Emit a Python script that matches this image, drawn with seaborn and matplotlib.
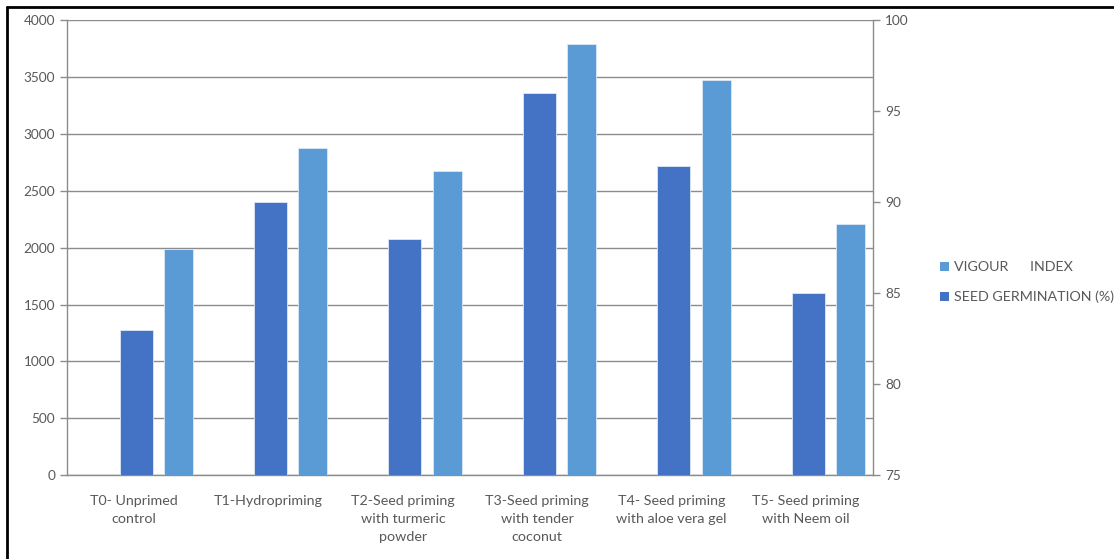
import numpy as np
import pandas as pd
import matplotlib
matplotlib.use("Agg")
import matplotlib.pyplot as plt
from matplotlib.patches import Patch
from matplotlib.lines import Line2D
import seaborn as sns

# Treatments and measured responses
treatments = [
    "T0- Unprimed\ncontrol",
    "T1-Hydropriming",
    "T2-Seed priming\nwith turmeric\npowder",
    "T3-Seed priming\nwith tender\ncoconut",
    "T4- Seed priming\nwith aloe vera gel",
    "T5- Seed priming\nwith Neem oil",
]
vigour_index = [1985, 2880, 2670, 3790, 3470, 2210]
seed_germination = [83, 90, 88, 96, 92, 85]

DARK = "#4472C4"
LIGHT = "#5B9BD5"
GRID = "#8C8C8C"
TEXT = "#595959"

sns.set_theme(style="white")
plt.rcParams["font.family"] = ["Lato", "DejaVu Sans"]

pos = np.arange(len(treatments))
df = pd.DataFrame({
    "pos": pos,
    "vigour": vigour_index,
    "germ": seed_germination,
})

fig = plt.figure(figsize=(11.14, 5.59), dpi=100)
ax = fig.add_axes([0.060, 0.150, 0.724, 0.814])
ax2 = ax.twinx()

# Vigour index on the primary axis, shifted right of each category centre
sns.barplot(data=df.assign(x=df["pos"] + 0.33), x="x", y="vigour",
            native_scale=True, width=0.215, color=LIGHT, saturation=1,
            edgecolor="#DDE8F5", linewidth=0.6, ax=ax, zorder=3)
# Seed germination on the secondary axis, centred on the category
sns.barplot(data=df.assign(x=df["pos"] + 0.015), x="x", y="germ",
            native_scale=True, width=0.245, color=DARK, saturation=1,
            edgecolor="#DDE8F5", linewidth=0.6, ax=ax2, zorder=3)

ax.set_xlim(-0.5, len(treatments) - 0.5)
ax.set_ylim(0, 4000)
ax.set_yticks(np.arange(0, 4001, 500))
ax2.set_ylim(75, 100)
ax2.set_yticks(np.arange(75, 101, 5))

ax.set_axisbelow(True)
ax.yaxis.grid(True, color=GRID, linewidth=1.0)
ax.xaxis.grid(False)
ax2.grid(False)

ax.set_xticks(pos)
ax.set_xticklabels(treatments, fontsize=10.3, color=TEXT, linespacing=1.6)
ax.set_xticks(np.arange(-0.5, len(treatments)), minor=True)
ax.tick_params(axis="x", which="major", length=0, pad=14.5)
ax.tick_params(axis="x", which="minor", length=5, width=1, color=GRID, direction="out")
ax.tick_params(axis="y", length=5, width=1, color=GRID, direction="out",
               labelsize=9.8, labelcolor=TEXT, left=True)
ax2.tick_params(axis="y", length=5, width=1, color=GRID, direction="out",
                labelsize=9.8, labelcolor=TEXT, right=True)

ax.set_xlabel("")
ax.set_ylabel("")
ax2.set_ylabel("")

for a in (ax, ax2):
    a.spines["top"].set_visible(False)
    for s in ("left", "right", "bottom"):
        a.spines[s].set_color(GRID)
        a.spines[s].set_linewidth(1.0)
ax.spines["right"].set_visible(False)
ax2.spines["left"].set_visible(False)
ax2.spines["bottom"].set_visible(False)

handles = [
    Patch(facecolor=LIGHT, edgecolor="none", label="VIGOUR      INDEX"),
    Patch(facecolor=DARK, edgecolor="none", label="SEED GERMINATION (%)"),
]
fig.legend(handles=handles, loc="center left", bbox_to_anchor=(0.839, 0.495),
           frameon=False, fontsize=10.3, labelcolor=TEXT, handlelength=0.6,
           handleheight=0.6, handletextpad=0.35, labelspacing=1.2,
           borderaxespad=0)

# Outer frame around the chart
fig.add_artist(Line2D([0.0065, 0.0065], [0.0, 0.9875], transform=fig.transFigure,
                      color="black", linewidth=2))
fig.add_artist(Line2D([0.0065, 1.0], [0.9875, 0.9875], transform=fig.transFigure,
                      color="black", linewidth=2))

fig.savefig("out.png", dpi=100)
